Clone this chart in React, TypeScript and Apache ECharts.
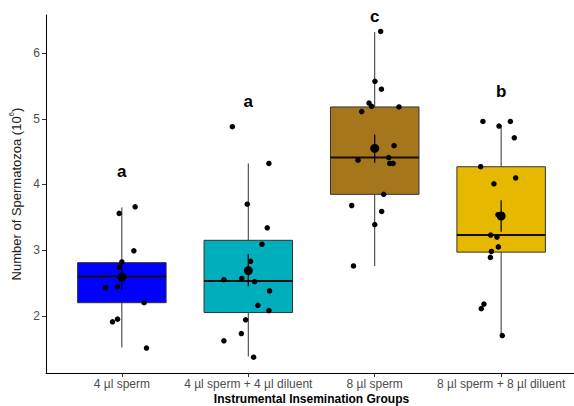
import React, { useEffect, useRef } from "react";
import * as echarts from "echarts";

const categories = ["4 µl sperm", "4 µl sperm + 4 µl diluent", "8 µl sperm", "8 µl sperm + 8 µl diluent"];
const boxColors = ["#0000FF", "#00AFBB", "#A6761D", "#E7B800"];

// [whiskerLow, q1, median, q3, whiskerHigh]
const boxStats = [
  [1.52, 2.2, 2.6, 2.81, 3.65],
  [1.38, 2.05, 2.53, 3.15, 4.32],
  [2.76, 3.85, 4.41, 5.18, 6.32],
  [1.7, 2.97, 3.23, 4.27, 4.9],
];
const means = [2.59, 2.69, 4.55, 3.52];
const errLow = [2.4, 2.45, 4.33, 3.28];
const errHigh = [2.78, 2.94, 4.76, 3.76];
const letters = ["a", "a", "c", "b"];
const letterY = [4.19, 5.27, 6.55, 5.41];

const values1 = [3.66, 3.56, 2.99, 2.82, 2.74, 2.43, 2.44, 2.2, 1.95, 1.91, 1.51];
const jitter1 = [0.105, -0.021, 0.095, 0, -0.021, -0.129, -0.034, 0.176, -0.034, -0.074, 0.195];
const values2 = [4.88, 4.32, 3.7, 3.34, 3.09, 2.83, 2.55, 2.57, 2.52, 2.38, 2.16, 2.08, 1.94, 1.73, 1.62, 1.37];
const jitter2 = [-0.126, 0.163, -0.008, 0.15, 0.108, 0.018, -0.193, -0.051, 0.05, 0.168, 0.076, 0.163, -0.021, -0.055, -0.193, 0.042];
const values3 = [6.33, 5.57, 5.45, 5.24, 5.19, 5.18, 5.11, 4.59, 4.37, 4.41, 4.32, 4.32, 3.85, 3.68, 3.59, 3.39, 2.76];
const jitter3 = [0.047, 0.002, 0.053, -0.045, -0.024, 0.192, -0.103, 0.153, -0.132, 0.111, 0.119, 0.145, 0.071, -0.182, 0.055, 0, -0.168];
const values4 = [4.96, 4.96, 4.89, 4.71, 4.27, 4.1, 4.01, 3.54, 3.51, 3.23, 3.2, 3.05, 2.98, 2.89, 2.18, 2.11, 1.7];
const jitter4 = [-0.144, 0.073, -0.017, 0.104, -0.162, 0.115, -0.057, -0.025, 0.004, -0.083, -0.033, -0.022, -0.077, -0.085, -0.136, -0.157, 0.009];

const yTicks = [2, 3, 4, 5, 6];
const xTicks = [1, 2, 3, 4];

export default function App() {
  const ref = useRef<HTMLDivElement>(null);
  useEffect(() => {
    if (!ref.current) return;
    const chart = echarts.init(ref.current, undefined, { renderer: "svg" });
    const font = "'Liberation Sans', Arial, sans-serif";
    const groups = [
      [values1, jitter1],
      [values2, jitter2],
      [values3, jitter3],
      [values4, jitter4],
    ];
    const points: number[][] = [];
    groups.forEach(([vals, jit], gi) => {
      vals.forEach((v, i) => points.push([gi + 1 + jit[i], v]));
    });
    const boxData = boxStats.map((s, i) => [i + 1, ...s, i]);
    const errData = means.map((m, i) => [i + 1, errLow[i], errHigh[i]]);
    const halfW = 0.35;

    chart.setOption({
      animation: false,
      grid: { left: 46, top: 15, width: 531, height: 358, containLabel: false, outerBoundsMode: "none" },
      xAxis: {
        type: "value",
        min: 0.4,
        max: 4.6,
        splitLine: { show: false },
        axisLine: { lineStyle: { color: "#000", width: 1 } },
        axisTick: { customValues: xTicks, length: 4, lineStyle: { color: "#333" } },
        axisLabel: {
          customValues: xTicks,
          formatter: (v: number) => categories[Math.round(v) - 1] ?? "",
          color: "#4d4d4d",
          fontSize: 12,
          fontFamily: font,
          margin: 5,
        },
        name: "Instrumental Insemination Groups",
        nameLocation: "middle",
        nameGap: 19,
        nameMoveOverlap: false,
        nameTextStyle: { fontSize: 12, fontWeight: "bold", color: "#000", fontFamily: font, lineHeight: 13, verticalAlign: "top" },
      },
      yAxis: {
        type: "value",
        min: 1.13,
        max: 6.58,
        splitLine: { show: false },
        axisLine: { show: true, lineStyle: { color: "#000", width: 1 } },
        axisTick: { show: true, customValues: yTicks, length: 4, lineStyle: { color: "#333" } },
        axisLabel: { customValues: yTicks, color: "#4d4d4d", fontSize: 12, fontFamily: font, margin: 6 },
        name: "Number of Spermatozoa (10{sup|6})",
        nameLocation: "middle",
        nameGap: 21,
        nameMoveOverlap: false,
        nameTextStyle: {
          fontSize: 13,
          color: "#222",
          fontFamily: font,
          rich: { sup: { fontSize: 8, verticalAlign: "top", lineHeight: 18, fontFamily: font, color: "#222" } },
        },
      },
      series: [
        {
          type: "custom",
          z: 1,
          data: boxData,
          renderItem: (params: any, api: any) => {
            const x = api.value(0);
            const lo = api.value(1), q1 = api.value(2), med = api.value(3), q3 = api.value(4), hi = api.value(5);
            const ci = api.value(6);
            const pLo = api.coord([x, lo]);
            const pQ1 = api.coord([x, q1]);
            const pMed = api.coord([x, med]);
            const pQ3 = api.coord([x, q3]);
            const pHi = api.coord([x, hi]);
            const left = api.coord([x - halfW, q3])[0];
            const right = api.coord([x + halfW, q3])[0];
            return {
              type: "group",
              children: [
                { type: "line", shape: { x1: pLo[0], y1: pLo[1], x2: pQ1[0], y2: pQ1[1] }, style: { stroke: "#333", lineWidth: 1 } },
                { type: "line", shape: { x1: pQ3[0], y1: pQ3[1], x2: pHi[0], y2: pHi[1] }, style: { stroke: "#333", lineWidth: 1 } },
                {
                  type: "rect",
                  shape: { x: left, y: pQ3[1], width: right - left, height: pQ1[1] - pQ3[1] },
                  style: { fill: boxColors[ci], stroke: "#333", lineWidth: 1 },
                },
                { type: "line", shape: { x1: left, y1: pMed[1], x2: right, y2: pMed[1] }, style: { stroke: "#111", lineWidth: 2 } },
              ],
            };
          },
        },
        {
          type: "scatter",
          z: 3,
          data: points,
          symbolSize: 5.5,
          itemStyle: { color: "#000", opacity: 1 },
          silent: true,
        },
        {
          type: "custom",
          z: 4,
          data: errData,
          renderItem: (params: any, api: any) => {
            const x = api.value(0);
            const a = api.coord([x, api.value(1)]);
            const b = api.coord([x, api.value(2)]);
            return { type: "line", shape: { x1: a[0], y1: a[1], x2: b[0], y2: b[1] }, style: { stroke: "#000", lineWidth: 1.2 } };
          },
        },
        {
          type: "scatter",
          z: 5,
          data: means.map((m, i) => [i + 1, m]),
          symbolSize: 9,
          itemStyle: { color: "#000", opacity: 1 },
          silent: true,
        },
        {
          type: "custom",
          z: 6,
          data: letters.map((l, i) => [i + 1, letterY[i]]),
          renderItem: (params: any, api: any) => {
            const p = api.coord([api.value(0), api.value(1)]);
            return {
              type: "text",
              x: p[0],
              y: p[1],
              style: {
                text: letters[params.dataIndex],
                fontSize: 17,
                fontWeight: "bold",
                fontFamily: font,
                fill: "#000",
                align: "center",
                verticalAlign: "middle",
              },
            };
          },
        },
      ],
    });
    return () => chart.dispose();
  }, []);
  return <div ref={ref} style={{ width: 574, height: 406, position: "absolute", left: 0, top: 0, background: "#fff" }} />;
}
